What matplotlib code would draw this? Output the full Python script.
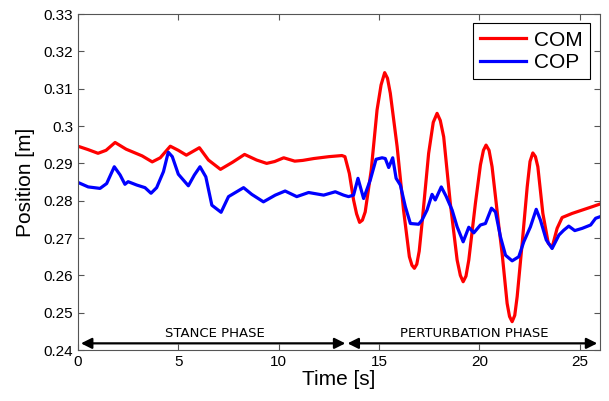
import matplotlib
matplotlib.use('Agg')
import matplotlib.pyplot as plt
from matplotlib.ticker import FuncFormatter

# COM trace (time [s], position [m])
com_t = [0, 0.5, 1.0, 1.4, 1.85, 2.4, 3.2, 3.7, 4.1, 4.6, 5.0, 5.4, 6.05, 6.5,
         7.1, 7.7, 8.3, 8.9, 9.4, 9.8, 10.25, 10.8, 11.2, 11.75, 12.5, 13.15,
         13.3, 13.52, 13.73, 13.88, 14.03, 14.17, 14.31, 14.61, 14.9, 15.1,
         15.28, 15.42, 15.56, 15.9, 16.22, 16.51, 16.64, 16.76, 16.88, 17.0,
         17.14, 17.47, 17.7, 17.89, 18.05, 18.22, 18.55, 18.89, 19.05, 19.19,
         19.33, 19.47, 19.8, 20.05, 20.2, 20.33, 20.48, 20.63, 20.96, 21.13,
         21.38, 21.5, 21.63, 21.76, 21.88, 22.13, 22.38, 22.52, 22.66, 22.79,
         22.91, 23.16, 23.43, 23.62, 23.87, 24.12, 24.62, 25.12, 25.62, 26.0]
com_v = [0.2946, 0.2937, 0.2927, 0.2935, 0.2956, 0.2938, 0.2920, 0.2904,
         0.2915, 0.2946, 0.2935, 0.2922, 0.2942, 0.2909, 0.2884, 0.2903,
         0.2924, 0.2909, 0.2900, 0.2905, 0.2915, 0.2906, 0.2908, 0.2913,
         0.2918, 0.2921, 0.2918, 0.2873, 0.2802, 0.2765, 0.2742, 0.2748,
         0.2770, 0.2882, 0.3043, 0.3110, 0.3143, 0.3128, 0.3088, 0.2945,
         0.2775, 0.2650, 0.2627, 0.2619, 0.2630, 0.2665, 0.2739, 0.2927,
         0.3010, 0.3034, 0.3015, 0.2971, 0.2793, 0.2641, 0.2600, 0.2583,
         0.2598, 0.2641, 0.2793, 0.2896, 0.2935, 0.2949, 0.2935, 0.2891,
         0.2735, 0.2659, 0.2525, 0.2490, 0.2476, 0.2493, 0.2543, 0.2686,
         0.2837, 0.2905, 0.2928, 0.2918, 0.2891, 0.2766, 0.2686, 0.2675,
         0.2726, 0.2755, 0.2766, 0.2775, 0.2784, 0.2791]

# COP trace
cop_t = [0, 0.51, 1.1, 1.43, 1.81, 2.1, 2.34, 2.5, 2.93, 3.34, 3.64, 3.92,
         4.26, 4.5, 4.7, 5.0, 5.5, 5.8, 6.08, 6.37, 6.67, 7.13, 7.5, 8.25,
         8.66, 9.24, 9.83, 10.32, 10.9, 11.49, 12.24, 12.82, 13.23, 13.48,
         13.73, 13.95, 14.23, 14.56, 14.85, 15.15, 15.31, 15.48, 15.68, 15.85,
         16.06, 16.31, 16.56, 16.97, 17.14, 17.39, 17.64, 17.8, 18.1, 18.34,
         18.64, 18.89, 19.19, 19.47, 19.72, 20.05, 20.3, 20.6, 20.8, 21.05,
         21.3, 21.63, 21.96, 22.21, 22.54, 22.83, 23.04, 23.33, 23.62, 23.96,
         24.2, 24.45, 24.75, 25.12, 25.54, 25.79, 26.0]
cop_v = [0.2849, 0.2837, 0.2833, 0.2846, 0.2891, 0.2869, 0.2844, 0.2851,
         0.2842, 0.2835, 0.2820, 0.2835, 0.2878, 0.2930, 0.2918, 0.2871,
         0.2840, 0.2869, 0.2891, 0.2864, 0.2788, 0.2769, 0.2811, 0.2835,
         0.2817, 0.2797, 0.2815, 0.2826, 0.2811, 0.2822, 0.2815, 0.2824,
         0.2815, 0.2811, 0.2815, 0.2860, 0.2806, 0.2855, 0.2911, 0.2915,
         0.2913, 0.2889, 0.2915, 0.2860, 0.2842, 0.2784, 0.2739, 0.2737,
         0.2748, 0.2775, 0.2817, 0.2802, 0.2837, 0.2812, 0.2775, 0.2730,
         0.2690, 0.2729, 0.2714, 0.2735, 0.2739, 0.2780, 0.2770, 0.2703,
         0.2654, 0.2639, 0.2650, 0.2690, 0.2730, 0.2777, 0.2748, 0.2695,
         0.2672, 0.2708, 0.2721, 0.2732, 0.2720, 0.2726, 0.2735, 0.2753,
         0.2757]

# phase markers: (start, end, label)
phases = [(0.15, 13.32, 'STANCE PHASE'), (13.43, 25.87, 'PERTURBATION PHASE')]
phase_y = 0.2418

x_ticks = [0, 5, 10, 15, 20, 25]
y_ticks = [0.24, 0.25, 0.26, 0.27, 0.28, 0.29, 0.30, 0.31, 0.32, 0.33]

plt.rcParams['font.family'] = ['Liberation Sans', 'DejaVu Sans']

fig = plt.figure(figsize=(6.09, 4.01), dpi=100)
ax = fig.add_axes([0.128, 0.127, 0.857, 0.838])

ax.plot(com_t, com_v, color='#ff0000', lw=2.3, label='COM')
ax.plot(cop_t, cop_v, color='#0000ff', lw=2.3, label='COP')

for t0, t1, name in phases:
    ax.annotate('', xy=(t0, phase_y), xytext=(t1, phase_y),
                arrowprops=dict(arrowstyle='<|-|>', color='black', lw=1.6,
                                mutation_scale=16, shrinkA=0, shrinkB=0))
    ax.text((t0 + t1) / 2 + 0.1, phase_y + 0.0009, name, ha='center',
            va='bottom', fontsize=9.5, family='DejaVu Sans')

ax.set_xlim(0, 26)
ax.set_ylim(0.24, 0.33)
ax.set_xticks(x_ticks)
ax.set_yticks(y_ticks)
ax.yaxis.set_major_formatter(FuncFormatter(lambda v, p: '%g' % round(v, 2)))
ax.tick_params(direction='in', top=True, right=True, length=4,
               labelsize=11, color='#555555')
for s in ax.spines.values():
    s.set_color('#555555')

ax.set_xlabel('Time [s]', fontsize=15, labelpad=1)
ax.set_ylabel('Position [m]', fontsize=15, labelpad=6)

leg = ax.legend(loc='upper right', fontsize=15, fancybox=False,
                framealpha=1, edgecolor='black', handlelength=2.2,
                borderpad=0.35, labelspacing=0.15, handletextpad=0.4,
                borderaxespad=0.45)
leg.get_frame().set_linewidth(0.8)

fig.savefig('out.png', dpi=100)
